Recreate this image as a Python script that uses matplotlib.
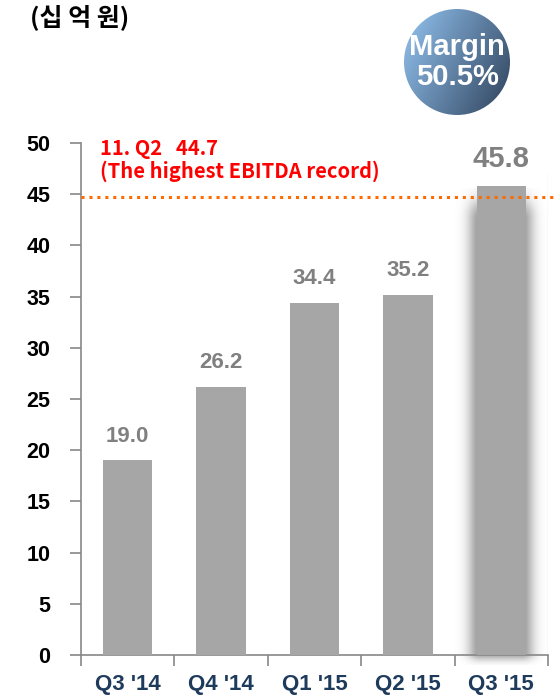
import numpy as np
import matplotlib
matplotlib.use("Agg")
import matplotlib.pyplot as plt
from matplotlib.patches import Circle

# data
quarters = ["Q3 '14", "Q4 '14", "Q1 '15", "Q2 '15", "Q3 '15"]
ebitda = [19.0, 26.2, 34.4, 35.2, 45.8]
record_value = 44.7
record_text = ["11. Q2   44.7", "(The highest EBITDA record)"]
unit_label = "(십 억 원)"
margin_text = "Margin\n50.5%"
yticks = list(range(0, 55, 5))

W, H = 556, 698
fig = plt.figure(figsize=(W / 100, H / 100), dpi=100)
ax = fig.add_axes([81 / W, (H - 655) / H, (548 - 81) / W, (655 - 143) / H])

x = np.arange(len(quarters))
bw = 0.53
last = len(quarters) - 1

# soft shadow behind the last bar (blurred box)
x0, x1 = last - bw / 2 - 0.28, last + bw / 2 + 0.28
y0, y1 = -1.0, 45.5
gx = np.linspace(x0, x1, 300)
gy = np.linspace(y0, y1, 400)
GX, GY = np.meshgrid(gx, gy)
dx = np.maximum(np.abs(GX - last) - bw / 2 + 0.04, 0) / 0.2
dy_top = np.maximum(GY - (y1 - 3), 0) / 3
dy_bot = np.maximum(0.2 - GY, 0) / 1.2
alpha = np.exp(-(dx ** 2 + dy_top ** 2 + dy_bot ** 2) * 2.5) * 0.6
rgba = np.zeros(GX.shape + (4,))
rgba[..., 0:3] = 0.35
rgba[..., 3] = alpha
ax.imshow(rgba, extent=[x0, x1, y0, y1], origin="lower", aspect="auto",
          zorder=1, clip_on=False, interpolation="bilinear")

# faint frame line on the right of the last category
ax.plot([4.5, 4.5], [0, 47], color="#e6e6e6", linewidth=1, zorder=0)

ax.bar(x, ebitda, width=bw, color="#a6a6a6", zorder=3)

for i, v in enumerate(ebitda):
    fs = 21 if i == last else 16
    ax.text(i, v + 1.3, f"{v:.1f}", ha="center", va="bottom", fontsize=fs,
            fontweight="bold", color="#808080", family="Liberation Sans", zorder=5)

# record line
ax.plot([-0.5, 4.55], [record_value, record_value], linestyle=(0, (1, 1.6)),
        color="#ff6a00", linewidth=2.2, zorder=4, clip_on=False)
ax.text(-0.30, 49.5, record_text[0], ha="left", va="center", fontsize=14.5,
        fontweight="bold", color="#ff0000", family=["Noto Sans CJK KR", "DejaVu Sans"])
ax.text(-0.30, 47.2, record_text[1], ha="left", va="center", fontsize=14.5,
        fontweight="bold", color="#ff0000", family=["Noto Sans CJK KR", "DejaVu Sans"])

ax.set_xlim(-0.5, len(quarters) - 0.5)
ax.set_ylim(0, 50)
ax.set_yticks(yticks)
ax.set_yticklabels([str(t) for t in yticks], fontsize=15.5, fontweight="bold",
                   family="Liberation Sans")
ax.set_xticks(np.arange(-0.5, len(quarters), 1.0))
ax.set_xticklabels([])
ax.set_xticks(x, minor=True)
ax.set_xticklabels(quarters, minor=True, fontsize=16, fontweight="bold",
                   color="#1f3b5c", family="Liberation Sans")
ax.tick_params(axis="x", which="minor", length=0, pad=14)
ax.tick_params(axis="x", which="major", length=8, color="#888888", width=1.2)
ax.tick_params(axis="y", length=8, color="#888888", width=1.2, pad=14)
for s in ["top", "right"]:
    ax.spines[s].set_visible(False)
for s in ["left", "bottom"]:
    ax.spines[s].set_color("#888888")
    ax.spines[s].set_linewidth(1.2)

fig.text(30 / W, 1 - 17 / H, unit_label, ha="left", va="center", fontsize=18,
         fontweight="bold", family=["Noto Sans CJK KR", "DejaVu Sans"])

# margin bubble
cax = fig.add_axes([404 / W, (H - 115) / H, 106 / W, 106 / H])
cax.set_xlim(0, 1)
cax.set_ylim(0, 1)
cax.axis("off")
u, v = np.meshgrid(np.linspace(0, 1, 200), np.linspace(0, 1, 200))
t = np.clip(0.7 * u + 0.35 * v, 0, 1)
c0 = np.array([0.58, 0.77, 0.95])
c1 = np.array([0.20, 0.28, 0.38])
img = c0[None, None, :] * (1 - t[..., None]) + c1[None, None, :] * t[..., None]
im = cax.imshow(img, extent=[0, 1, 0, 1], origin="upper", aspect="auto")
circ = Circle((0.5, 0.5), 0.5, transform=cax.transData, facecolor="none",
              edgecolor="none")
cax.add_patch(circ)
im.set_clip_path(circ)
cax.text(0.5, 0.5, margin_text, ha="center", va="center", fontsize=21,
         fontweight="bold", color="white", family="Liberation Sans",
         linespacing=1.1)

fig.savefig("out.png", dpi=100)
